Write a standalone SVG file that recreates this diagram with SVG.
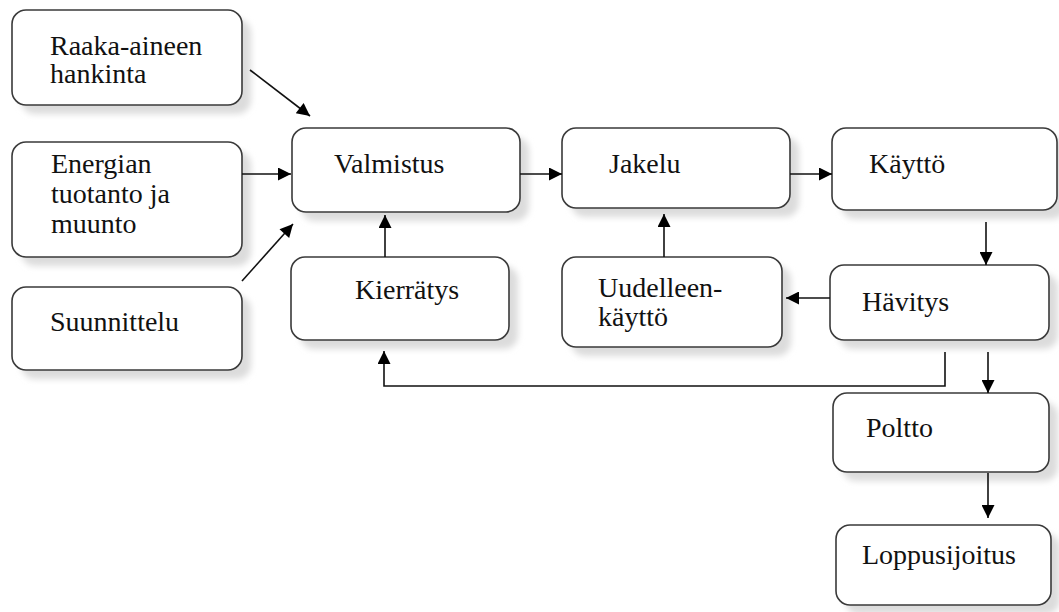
<svg xmlns="http://www.w3.org/2000/svg" width="1059" height="612" viewBox="0 0 1059 612">
  <defs>
    <filter id="blur" x="-10%" y="-10%" width="130%" height="130%">
      <feGaussianBlur stdDeviation="3"/>
    </filter>
    <marker id="ah" viewBox="0 0 10 10" refX="10" refY="5" markerWidth="16" markerHeight="13" markerUnits="userSpaceOnUse" orient="auto">
      <path d="M0,0 L10,5 L0,10 z" fill="#000"/>
    </marker>
  </defs>
  <style>
    .shadow { fill: #dcdcdc; filter: url(#blur); }
    .box { fill: #ffffff; stroke: #3a3a3a; stroke-width: 1.6; }
    .lbl { font-family: 'Liberation Serif', 'Times New Roman', serif; font-size: 28px; fill: #111; }
    .conn { stroke: #111; stroke-width: 1.6; fill: none; }
    .arr { marker-end: url(#ah); }
  </style>
  <rect width="1059" height="612" fill="#ffffff"/>

  <g id="node-raaka">
    <rect class="shadow" x="21" y="19" width="230" height="95" rx="14"/>
    <rect class="box" x="12" y="10" width="230" height="95" rx="14"/>
    <text class="lbl" x="50" y="55">Raaka-aineen</text>
    <text class="lbl" x="50" y="83">hankinta</text>
  </g>
  <g id="node-energia">
    <rect class="shadow" x="21" y="151" width="230" height="115" rx="14"/>
    <rect class="box" x="12" y="142" width="230" height="115" rx="14"/>
    <text class="lbl" x="51" y="173">Energian</text>
    <text class="lbl" x="51" y="203">tuotanto ja</text>
    <text class="lbl" x="51" y="233">muunto</text>
  </g>
  <g id="node-suunnittelu">
    <rect class="shadow" x="21" y="296" width="230" height="83" rx="14"/>
    <rect class="box" x="12" y="287" width="230" height="83" rx="14"/>
    <text class="lbl" x="50" y="331">Suunnittelu</text>
  </g>
  <g id="node-valmistus">
    <rect class="shadow" x="301" y="137" width="228" height="84" rx="14"/>
    <rect class="box" x="292" y="128" width="228" height="84" rx="14"/>
    <text class="lbl" x="334" y="173">Valmistus</text>
  </g>
  <g id="node-jakelu">
    <rect class="shadow" x="571" y="137" width="228" height="80" rx="14"/>
    <rect class="box" x="562" y="128" width="228" height="80" rx="14"/>
    <text class="lbl" x="609" y="173">Jakelu</text>
  </g>
  <g id="node-kaytto">
    <rect class="shadow" x="841" y="137" width="225" height="82" rx="14"/>
    <rect class="box" x="832" y="128" width="225" height="82" rx="14"/>
    <text class="lbl" x="869" y="173">Käyttö</text>
  </g>
  <g id="node-kierratys">
    <rect class="shadow" x="300" y="266" width="218" height="83" rx="14"/>
    <rect class="box" x="291" y="257" width="218" height="83" rx="14"/>
    <text class="lbl" x="355" y="299">Kierrätys</text>
  </g>
  <g id="node-uudelleen">
    <rect class="shadow" x="571" y="266" width="220" height="90" rx="14"/>
    <rect class="box" x="562" y="257" width="220" height="90" rx="14"/>
    <text class="lbl" x="598" y="297">Uudelleen-</text>
    <text class="lbl" x="598" y="326">käyttö</text>
  </g>
  <g id="node-havitys">
    <rect class="shadow" x="839" y="274" width="219" height="75" rx="14"/>
    <rect class="box" x="830" y="265" width="219" height="75" rx="14"/>
    <text class="lbl" x="862" y="311">Hävitys</text>
  </g>
  <g id="node-poltto">
    <rect class="shadow" x="842" y="402" width="216" height="79" rx="14"/>
    <rect class="box" x="833" y="393" width="216" height="79" rx="14"/>
    <text class="lbl" x="866" y="437">Poltto</text>
  </g>
  <g id="node-loppusijoitus">
    <rect class="shadow" x="845" y="534" width="215" height="80" rx="14"/>
    <rect class="box" x="836" y="525" width="215" height="80" rx="14"/>
    <text class="lbl" x="862" y="564">Loppusijoitus</text>
  </g>

  <g id="connectors">
    <line class="conn arr" x1="250" y1="70" x2="310" y2="116"/>
    <line class="conn arr" x1="242" y1="174" x2="291" y2="174"/>
    <line class="conn arr" x1="242" y1="281" x2="293" y2="224"/>
    <line class="conn arr" x1="520" y1="174" x2="562" y2="174"/>
    <line class="conn arr" x1="790" y1="174" x2="832" y2="174"/>
    <line class="conn arr" x1="986" y1="222" x2="986" y2="265"/>
    <line class="conn arr" x1="830" y1="298" x2="786" y2="298"/>
    <line class="conn arr" x1="988" y1="352" x2="988" y2="393"/>
    <line class="conn arr" x1="988" y1="473" x2="988" y2="518"/>
    <polyline class="conn arr" points="945,352 945,386 384,386 384,351"/>
    <line class="conn arr" x1="385" y1="257" x2="385" y2="215"/>
    <line class="conn arr" x1="664" y1="257" x2="664" y2="214"/>
  </g>
</svg>
